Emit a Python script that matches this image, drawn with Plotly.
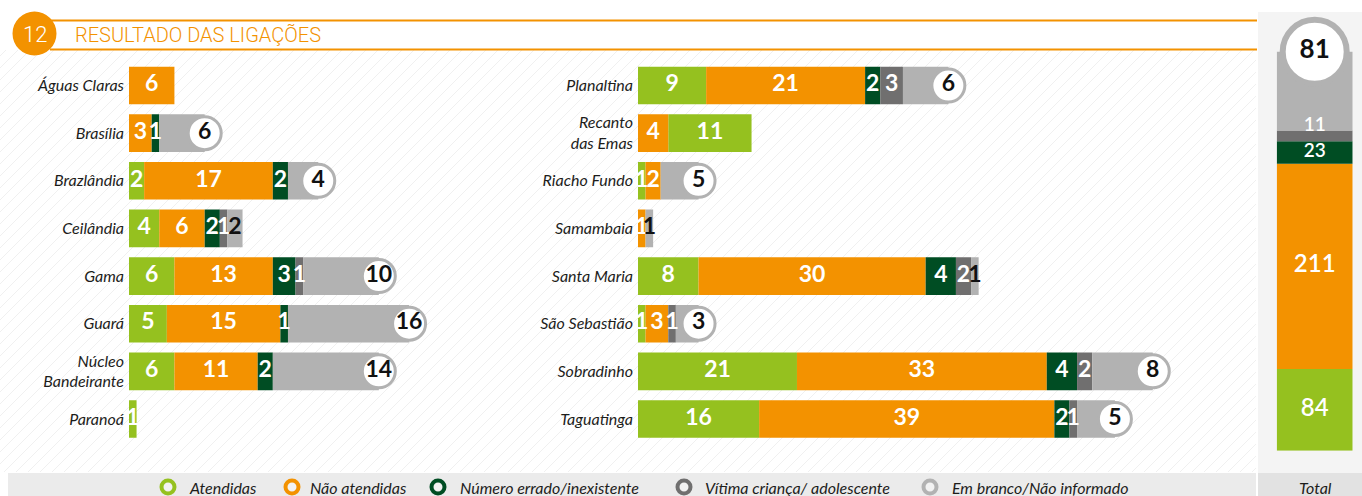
import plotly.graph_objects as go

# categories, in stacking order
CATEGORIES = ["Atendidas", "Não atendidas", "Número errado/inexistente",
              "Vítima criança/ adolescente", "Em branco/Não informado"]
COLORS = ["#95c11f", "#f39200", "#004d23", "#706f6f", "#b2b2b2"]

LEFT_NAMES = ["Águas Claras", "Brasília", "Brazlândia", "Ceilândia", "Gama", "Guará",
              "Núcleo<br>Bandeirante", "Paranoá"]
LEFT_ATENDIDAS = [0, 0, 2, 4, 6, 5, 6, 1]
LEFT_NAO_ATENDIDAS = [6, 3, 17, 6, 13, 15, 11, 0]
LEFT_ERRADO = [0, 1, 2, 2, 3, 1, 2, 0]
LEFT_VITIMA = [0, 0, 0, 1, 1, 0, 0, 0]
LEFT_BRANCO = [0, 6, 4, 2, 10, 16, 14, 0]

RIGHT_NAMES = ["Planaltina", "Recanto<br>das Emas", "Riacho Fundo", "Samambaia", "Santa Maria",
               "São Sebastião", "Sobradinho", "Taguatinga"]
RIGHT_ATENDIDAS = [9, 11, 1, 0, 8, 1, 21, 16]
RIGHT_NAO_ATENDIDAS = [21, 4, 2, 1, 30, 3, 33, 39]
RIGHT_ERRADO = [2, 0, 0, 0, 4, 0, 4, 2]
RIGHT_VITIMA = [3, 0, 0, 0, 2, 1, 2, 1]
RIGHT_BRANCO = [6, 0, 5, 1, 1, 3, 8, 5]

# in the original graphic the orange segment of Recanto das Emas comes first
DRAW_ORDER = {"Recanto<br>das Emas": [1, 0, 2, 3, 4]}

TOTALS = [84, 211, 23, 11, 81]

W, H = 1362, 496
FONT = "Lato"


def px(x):
    return x / W


def py(y):
    return 1 - y / H


def add_panel(fig, names, series, xa, ya):
    n = len(names)
    bases = [[0] * n for _ in series]
    for i, name in enumerate(names):
        acc = 0
        for c in DRAW_ORDER.get(name, range(len(series))):
            bases[c][i] = acc
            acc += series[c][i]

    for c, vals in enumerate(series):
        fig.add_trace(go.Bar(
            orientation="h", y=list(range(n)), x=vals, base=bases[c],
            width=0.79, marker=dict(color=COLORS[c], line_width=0),
            xaxis=xa, yaxis=ya, showlegend=False, hoverinfo="skip",
        ))

    tx, ty, tt, tc = [], [], [], []
    cx, cy, ct = [], [], []
    for c, vals in enumerate(series):
        for i, v in enumerate(vals):
            if v <= 0:
                continue
            if c == 4 and v >= 3:
                cx.append(bases[c][i] + v)
                cy.append(i)
                ct.append(str(v))
            else:
                tx.append(bases[c][i] + v / 2)
                ty.append(i)
                tt.append(str(v))
                tc.append("#111111" if c == 4 else "white")

    fig.add_trace(go.Scatter(
        x=tx, y=ty, text=tt, mode="text", textposition="middle center",
        textfont=dict(family=FONT, size=23, color=tc, weight="bold"),
        xaxis=xa, yaxis=ya, showlegend=False, hoverinfo="skip", cliponaxis=False,
    ))
    fig.add_trace(go.Scatter(
        x=cx, y=cy, text=ct, mode="markers+text", textposition="middle center",
        marker=dict(size=33, color="white", line=dict(color=COLORS[4], width=3)),
        textfont=dict(family=FONT, size=23, color="#111111", weight="bold"),
        xaxis=xa, yaxis=ya, showlegend=False, hoverinfo="skip", cliponaxis=False,
    ))


fig = go.Figure()

add_panel(fig, LEFT_NAMES,
          [LEFT_ATENDIDAS, LEFT_NAO_ATENDIDAS, LEFT_ERRADO, LEFT_VITIMA, LEFT_BRANCO], "x", "y")
add_panel(fig, RIGHT_NAMES,
          [RIGHT_ATENDIDAS, RIGHT_NAO_ATENDIDAS, RIGHT_ERRADO, RIGHT_VITIMA, RIGHT_BRANCO], "x2", "y2")

# total column
acc = 0
tot_bases = []
for v in TOTALS:
    tot_bases.append(acc)
    acc += v
for c, v in enumerate(TOTALS):
    fig.add_trace(go.Bar(
        x=[0], y=[v], base=[tot_bases[c]], width=1,
        marker=dict(color=COLORS[c], line_width=0),
        xaxis="x3", yaxis="y3", showlegend=False, hoverinfo="skip",
    ))
fig.add_trace(go.Scatter(
    x=[0] * 4, y=[tot_bases[c] + TOTALS[c] / 2 for c in range(4)],
    text=[str(v) for v in TOTALS[:4]], mode="text",
    textposition=["middle center", "middle center", "middle center", "top center"],
    textfont=dict(family=FONT, size=[24, 24, 19, 19], color="white", weight=600),
    xaxis="x3", yaxis="y3", showlegend=False, hoverinfo="skip", cliponaxis=False,
))
fig.add_trace(go.Scatter(
    x=[0], y=[acc], text=[str(TOTALS[4])], mode="markers+text", textposition="middle center",
    marker=dict(size=64, color="white", line=dict(color=COLORS[4], width=6)),
    textfont=dict(family=FONT, size=26, color="#111111", weight="bold"),
    xaxis="x3", yaxis="y3", showlegend=False, hoverinfo="skip", cliponaxis=False,
))

shapes = []
# diagonal hatch of the background
x0, x1, y0, y1 = 0, 1256, 50, 472
c = x0 + y0 + 6
while c < x1 + y1:
    ys = min(y1, c - x0)
    xs = c - ys
    ye = max(y0, c - x1)
    xe = c - ye
    shapes.append(dict(type="line", xref="paper", yref="paper", layer="below",
                       x0=px(xs), y0=py(ys), x1=px(xe), y1=py(ye),
                       line=dict(color="#f0f0f0", width=1)))
    c += 12

shapes += [
    dict(type="rect", xref="paper", yref="paper", layer="below",
         x0=px(1258), x1=1, y0=py(473), y1=py(12), fillcolor="#f4f4f4", line_width=0),
    dict(type="rect", xref="paper", yref="paper", layer="below",
         x0=px(8), x1=px(1256), y0=0, y1=py(473), fillcolor="#ebebeb", line_width=0),
    dict(type="rect", xref="paper", yref="paper", layer="below",
         x0=px(1258), x1=1, y0=0, y1=py(473), fillcolor="#e2e2e2", line_width=0),
    dict(type="line", xref="paper", yref="paper", x0=px(50), x1=px(1257),
         y0=py(20.5), y1=py(20.5), line=dict(color="#f39200", width=2)),
    dict(type="line", xref="paper", yref="paper", x0=px(50), x1=px(1257),
         y0=py(49.5), y1=py(49.5), line=dict(color="#f39200", width=2)),
    dict(type="circle", xref="paper", yref="paper", x0=px(12.5), x1=px(56.5),
         y0=py(55.5), y1=py(11.5), fillcolor="#f39200", line_width=0),
]

annotations = [
    dict(text="12", x=px(34.5), y=py(34), xref="paper", yref="paper", showarrow=False,
         xanchor="center", yanchor="middle",
         font=dict(family="Roboto", size=22, color="white", weight=300)),
    dict(text="RESULTADO DAS LIGAÇÕES", x=px(73), y=py(34.5), xref="paper", yref="paper",
         xanchor="left", yanchor="middle", showarrow=False,
         font=dict(family="Roboto", size=20, color="#f39200", weight=300)),
    dict(text="Total", x=px(1315), y=py(487), xref="paper", yref="paper", showarrow=False,
         xanchor="center", yanchor="middle",
         font=dict(family=FONT, size=16, color="#1d1d1b", style="italic")),
]

legend_pos = [(168, 187), (292, 308), (438, 458), (684, 703), (930, 950)]
for c, (rx, tx) in enumerate(legend_pos):
    shapes.append(dict(type="circle", xref="paper", yref="paper",
                       xsizemode="pixel", ysizemode="pixel",
                       xanchor=px(rx), yanchor=py(487), x0=-6.5, x1=6.5, y0=-6.5, y1=6.5,
                       fillcolor="#f2f2f2", line=dict(color=COLORS[c], width=4)))
    annotations.append(dict(text=CATEGORIES[c], x=px(tx), y=py(487), xref="paper", yref="paper",
                            xanchor="left", yanchor="middle", showarrow=False,
                            font=dict(family=FONT, size=16, color="#1d1d1b", style="italic")))

tickfont = dict(family=FONT, size=16, color="#1d1d1b", style="italic")
row_domain = [py(442.8), py(61.7)]
fig.update_layout(
    width=W, height=H,
    margin=dict(l=0, r=0, t=0, b=0),
    paper_bgcolor="white", plot_bgcolor="rgba(0,0,0,0)",
    barmode="overlay", hovermode=False,
    shapes=shapes, annotations=annotations,
    xaxis=dict(domain=[px(129), px(129 + 7.57 * 45)], range=[0, 45], visible=False),
    yaxis=dict(domain=row_domain, range=[7.5, -0.5], anchor="x",
               tickvals=list(range(len(LEFT_NAMES))), ticktext=LEFT_NAMES,
               showgrid=False, zeroline=False, showline=False, ticks="",
               tickfont=tickfont, ticklabelstandoff=4),
    xaxis2=dict(domain=[px(638), px(638 + 7.57 * 80)], range=[0, 80], visible=False, anchor="y2"),
    yaxis2=dict(domain=row_domain, range=[7.5, -0.5], anchor="x2",
                tickvals=list(range(len(RIGHT_NAMES))), ticktext=RIGHT_NAMES,
                showgrid=False, zeroline=False, showline=False, ticks="",
                tickfont=tickfont, ticklabelstandoff=4),
    xaxis3=dict(domain=[px(1276.7), px(1352.7)], range=[-0.5, 0.5], visible=False, anchor="y3"),
    yaxis3=dict(domain=[py(450.7), py(22.6)], range=[0, 440], visible=False, anchor="x3"),
)

# the page body has a default 8px margin: drop it so the figure sits at the top-left corner
fig.write_html("out.html", config={"displayModeBar": False},
               post_script="document.body.style.margin = '0';")
